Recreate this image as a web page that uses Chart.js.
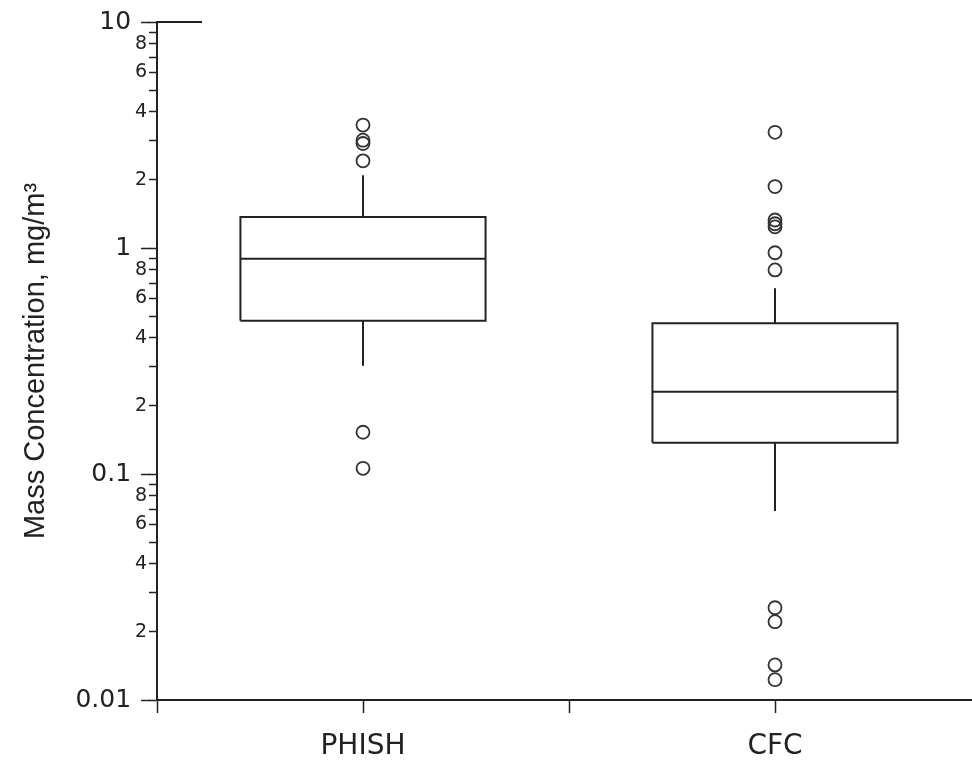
<!DOCTYPE html>
<html><head><meta charset="utf-8">
<script src="https://cdn.jsdelivr.net/npm/chart.js@4/dist/chart.umd.min.js"></script>
<style>html,body{margin:0;padding:0;background:#fff;overflow:hidden}</style>
</head><body>
<canvas id="c" width="972" height="760"></canvas>
<script>
// ---- data ----
const categories = ['PHISH', 'CFC'];
const q1 = [0.477, 0.1375];
const median = [0.897, 0.231];
const q3 = [1.37, 0.464];
const whiskerLow = [0.301, 0.0686];
const whiskerHigh = [2.10, 0.663];
const outliersPHISH = [3.5, 3.0, 2.9, 2.43, 0.153, 0.106];
const outliersCFC = [3.25, 1.87, 1.33, 1.28, 1.24, 0.953, 0.80, 0.0256, 0.0222, 0.0143, 0.0123];
const outliers = [outliersPHISH, outliersCFC];
const yTickValues = [0.01,0.02,0.03,0.04,0.05,0.06,0.07,0.08,0.09,
                     0.1,0.2,0.3,0.4,0.5,0.6,0.7,0.8,0.9,
                     1,2,3,4,5,6,7,8,9,10];
const yTickLabels = ['0.01','2','','4','','6','','8','',
                     '0.1','2','','4','','6','','8','',
                     '1','2','','4','','6','','8','',
                     '10'];
const yMajorTicks = [0.01, 0.1, 1, 10];
const yAxisTitle = 'Mass Concentration, mg/m\u00B3';

// ---- layout/style ----
const INK = '#222';
const HALF = 0.595;           // half box width in category units
const catX = categories.map((c, i) => i * 2 + 1);
const xTickValues = [0, 1, 2, 3];
const xTickLabels = xTickValues.map(v => { const i = catX.indexOf(v); return i >= 0 ? categories[i] : ''; });

const lineDs = (pts) => ({ data: pts, showLine: true, borderColor: INK, borderWidth: 2,
  pointRadius: 0, fill: false, tension: 0, clip: false });

const datasets = [];
categories.forEach((c, i) => {
  const x = catX[i];
  datasets.push(lineDs([{x: x - HALF, y: q1[i]}, {x: x + HALF, y: q1[i]}, {x: x + HALF, y: q3[i]}, {x: x - HALF, y: q3[i]}, {x: x - HALF, y: q1[i]}]));
  datasets.push(lineDs([{x: x - HALF, y: median[i]}, {x: x + HALF, y: median[i]}]));
  datasets.push(lineDs([{x: x, y: q3[i]}, {x: x, y: whiskerHigh[i]}]));
  datasets.push(lineDs([{x: x, y: q1[i]}, {x: x, y: whiskerLow[i]}]));
  datasets.push({ data: outliers[i].map(v => ({x: x, y: v})), showLine: false,
    pointStyle: 'circle', pointRadius: 6.5, pointBorderWidth: 1.8,
    pointBorderColor: '#333', pointBackgroundColor: 'rgba(0,0,0,0)', clip: false });
});

const majorExt = {
  id: 'majorExt',
  afterDraw(chart) {
    const ys = chart.scales.y, ctx = chart.ctx, L = chart.chartArea.left;
    ctx.save();
    ctx.strokeStyle = INK; ctx.lineWidth = 1.5;
    yMajorTicks.forEach(v => {
      const p = Math.round(ys.getPixelForValue(v)) + 0.5;
      ctx.beginPath(); ctx.moveTo(L - 16, p); ctx.lineTo(L - 7, p); ctx.stroke();
    });
    const top = ys.getPixelForValue(10);
    ctx.lineWidth = 2;
    ctx.beginPath(); ctx.moveTo(L, top); ctx.lineTo(L + 45, top); ctx.stroke();
    ctx.restore();
  }
};

new Chart(document.getElementById('c'), {
  type: 'scatter',
  data: { datasets },
  plugins: [majorExt],
  options: {
    responsive: false, animation: false, events: [],
    layout: { autoPadding: false, padding: { top: 22, right: 0, bottom: 0, left: 0 } },
    plugins: { legend: { display: false }, tooltip: { enabled: false } },
    scales: {
      x: {
        type: 'linear', min: 0, max: 815 / 206,
        afterBuildTicks: s => { s.ticks = xTickValues.map(v => ({ value: v })); },
        afterFit: s => { s.height = 60; s.paddingLeft = 0; s.paddingRight = 0; },
        ticks: { autoSkip: false, includeBounds: false, maxRotation: 0, padding: 17, color: INK,
          font: { family: 'DejaVu Sans', size: 28 },
          callback: (v, i) => xTickLabels[i] },
        grid: { drawOnChartArea: false, drawTicks: true, tickLength: 13, tickColor: INK, tickWidth: 1.5 },
        border: { display: true, color: INK, width: 2 }
      },
      y: {
        type: 'logarithmic', min: 0.01, max: 10,
        afterBuildTicks: s => { s.ticks = yTickValues.map(v => ({ value: v })); },
        afterFit: s => { s.width = 157; },
        ticks: { autoSkip: false, padding: 2, color: INK,
          font: c => yMajorTicks.includes(yTickValues[c.index]) ? { family: 'DejaVu Sans', size: 25 } : { family: 'DejaVu Sans', size: 19 },
          callback: (v, i) => yMajorTicks.includes(yTickValues[i]) ? yTickLabels[i] + '  ' : yTickLabels[i] },
        grid: { drawOnChartArea: false, drawTicks: true, tickLength: 8, tickColor: INK, tickWidth: 1.5 },
        border: { display: true, color: INK, width: 2 },
        title: { display: true, text: yAxisTitle, color: INK, padding: { top: 19, bottom: 0 },
          font: { family: 'Liberation Sans', size: 29 } }
      }
    }
  }
});
</script>
</body></html>
